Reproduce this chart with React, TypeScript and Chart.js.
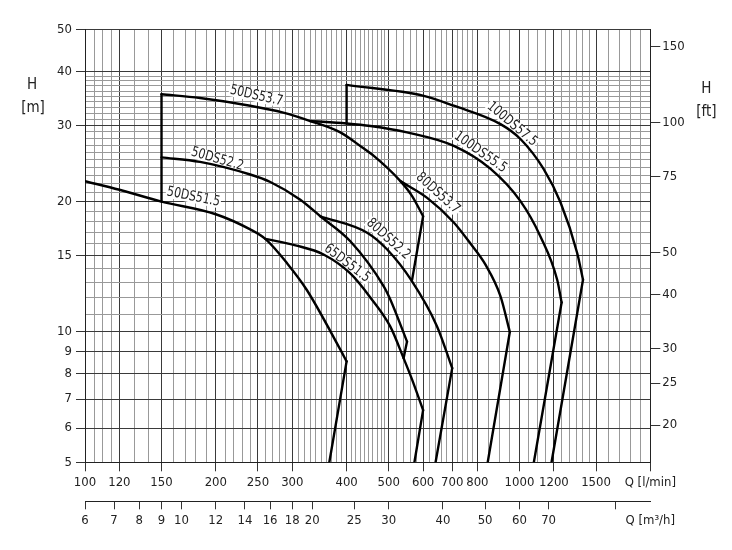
import { useEffect, useRef } from 'react';
import { Chart, registerables } from 'chart.js';

Chart.register(...registerables);

const FONT = "'DejaVu Sans Condensed', 'Liberation Sans', sans-serif";
const TEXT = '#222';
const GRID_MAJOR = '#3a3a3a';
const GRID_MINOR = '#999999';
const TICK = '#333';
const NONE = 'rgba(0,0,0,0)';
const M_TO_FT = 3.28084;

// Flow axis (l/min): labelled lines and the finer grid
const qMajor = [100, 120, 150, 200, 250, 300, 400, 500, 600, 700, 800, 1000, 1200, 1500, 2000];
const qMinor = [
  105, 110, 115, 130, 140, 160, 170, 180, 190, 210, 220, 230, 240, 260, 270, 280, 290,
  310, 320, 330, 340, 350, 360, 370, 380, 390, 410, 420, 430, 440, 450, 460, 470, 480, 490,
  520, 540, 560, 580, 620, 640, 660, 680, 720, 740, 760, 780, 850, 900, 950,
  1050, 1100, 1150, 1250, 1300, 1350, 1400, 1450, 1600, 1700, 1800, 1900,
];
// Flow axis (m³/h)
const m3Ticks = [6, 7, 8, 9, 10, 12, 14, 16, 18, 20, 25, 30, 40, 50, 60, 70, 100, 120];
// Head axis (m)
const hMajor = [5, 6, 7, 8, 9, 10, 15, 20, 30, 40, 50];
const hMinor = [11, 12, 13, 14, 16, 17, 18, 19, 21, 22, 23, 24, 25, 26, 27, 28, 29, 31, 32, 33, 34, 35, 36, 37, 38, 39];
// Head axis (ft)
const ftTicks = [20, 25, 30, 40, 50, 75, 100, 150];

// Pump curves: Q in l/min, H in m
const q50DS515 = [100, 120, 150, 200, 240, 260, 292, 324, 387, 400];
const h50DS515 = [22.3, 21.3, 20.0, 18.7, 17.25, 16.4, 14.4, 12.5, 9.1, 8.55];
const q50DS515Drop = [400, 365];
const h50DS515Drop = [8.55, 5];

const q65DS515 = [260, 305, 354, 408, 454, 504, 541, 566, 600];
const h65DS515 = [16.4, 15.85, 15.1, 13.65, 12.0, 10.3, 8.7, 7.76, 6.6];
const q65DS515Drop = [600, 573];
const h65DS515Drop = [6.6, 5];

const q50DS522 = [150, 184, 240, 267, 313, 348, 408, 487, 504, 551];
const h50DS522 = [25.3, 24.7, 23.1, 22.2, 20.2, 18.5, 16.2, 12.75, 11.9, 9.5];
const q50DS522Drop = [551, 541];
const h50DS522Drop = [9.5, 8.7];

const q80DS522 = [348, 446, 496, 564, 646, 700];
const h80DS522 = [18.5, 16.95, 15.5, 13.15, 10.3, 8.25];
const q80DS522Drop = [700, 641];
const h80DS522Drop = [8.25, 5];

const q50DS537 = [150, 184, 240, 286, 330, 387, 434, 462, 532, 566, 600];
const h50DS537 = [35.4, 34.7, 33.3, 32.1, 30.7, 28.9, 26.7, 25.5, 22.3, 20.6, 18.5];
const q50DS537Drop = [600, 566];
const h50DS537Drop = [18.5, 13.2];
const q150Bound = [150, 150];
const h150Bound = [20.0, 35.4];

const q80DS537 = [532, 613, 706, 771, 835, 904, 950];
const h80DS537 = [22.3, 20.4, 17.9, 16.0, 14.3, 12.1, 10.0];
const q80DS537Drop = [950, 845];
const h80DS537Drop = [10.0, 5];

const q100DS555 = [330, 400, 454, 551, 706, 858, 1005, 1118, 1221, 1250];
const h100DS555 = [30.7, 30.3, 29.9, 28.9, 26.9, 23.8, 20.05, 16.6, 13.2, 11.7];
const q100DS555Drop = [1250, 1079];
const h100DS555Drop = [11.7, 5];

const q100DS575 = [400, 602, 706, 904, 1005, 1136, 1243, 1358, 1400];
const h100DS575 = [37.2, 35.1, 33.3, 30.2, 27.9, 23.8, 19.9, 15.2, 13.2];
const q100DS575Drop = [1400, 1185];
const h100DS575Drop = [13.2, 5];
const q400Bound = [400, 400];
const h400Bound = [30.3, 37.2];

// Model names written along the curves
const curveNames = ['50DS51.5', '50DS52.2', '50DS53.7', '65DS51.5', '80DS52.2', '80DS53.7', '100DS55.5', '100DS57.5'];
const nameQ = [177.6, 201.7, 248, 401, 499, 649, 813, 962];
const nameH = [20.5, 25.05, 35.1, 14.4, 16.4, 20.9, 26.0, 30.2];
const nameAngle = [11.5, 16, 12.5, 37, 42, 42, 35, 40];

const near = (arr: number[], v: number) => arr.some((a) => Math.abs(a - v) < 1e-6);

const qLabel = (v: number) => {
  if (v === 2000) return 'Q [l/min]';
  return near(qMajor, v) ? String(v) : '';
};
const m3Label = (v: number) => {
  if (v === 120) return 'Q [m³/h]';
  if (v === 100) return '';
  return String(v);
};

function line(q: number[], h: number[], smooth: boolean) {
  return {
    data: q.map((x, i) => ({ x, y: h[i] })),
    borderColor: '#000',
    borderWidth: 2.4,
    pointRadius: 0,
    fill: false,
    tension: 0,
    cubicInterpolationMode: smooth ? 'monotone' : 'default',
    borderCapStyle: 'round',
    borderJoinStyle: 'round',
    xAxisID: 'x',
    yAxisID: 'y',
  };
}

const LABEL_SIZE = 14;
const LABEL_SQUEEZE = 0.87;

const textPlugin = {
  id: 'pumpText',
  beforeDatasetsDraw(chart: any) {
    const { ctx, scales } = chart;
    ctx.save();
    ctx.font = `${LABEL_SIZE}px ${FONT}`;
    curveNames.forEach((name, i) => {
      const px = scales.x.getPixelForValue(nameQ[i]);
      const py = scales.y.getPixelForValue(nameH[i]);
      const w = ctx.measureText(name).width * LABEL_SQUEEZE;
      ctx.save();
      ctx.translate(px, py);
      ctx.rotate((nameAngle[i] * Math.PI) / 180);
      ctx.fillStyle = '#fff';
      ctx.fillRect(-w / 2 - 1, -6, w + 2, 12);
      ctx.restore();
    });
    ctx.restore();
  },
  afterDatasetsDraw(chart: any) {
    const { ctx, scales, chartArea } = chart;
    ctx.save();
    ctx.fillStyle = TEXT;
    ctx.textAlign = 'center';
    ctx.textBaseline = 'middle';
    ctx.font = `${LABEL_SIZE}px ${FONT}`;
    curveNames.forEach((name, i) => {
      const px = scales.x.getPixelForValue(nameQ[i]);
      const py = scales.y.getPixelForValue(nameH[i]);
      ctx.save();
      ctx.translate(px, py);
      ctx.rotate((nameAngle[i] * Math.PI) / 180);
      ctx.scale(LABEL_SQUEEZE, 1);
      ctx.fillText(name, 0, 0);
      ctx.restore();
    });
    // axis titles
    ctx.font = `15px ${FONT}`;
    ctx.fillText('H', chartArea.left - 53, chartArea.top + 56);
    ctx.fillText('[m]', chartArea.left - 52, chartArea.top + 79);
    ctx.fillText('H', chartArea.right + 56, chartArea.top + 60);
    ctx.fillText('[ft]', chartArea.right + 56, chartArea.top + 83);
    ctx.restore();
  },
};

export default function App() {
  const ref = useRef<HTMLCanvasElement | null>(null);

  useEffect(() => {
    document.body.style.margin = '0';
    const canvas = ref.current;
    if (!canvas) return;

    const datasets = [
      line(q50DS515, h50DS515, true),
      line(q50DS515Drop, h50DS515Drop, false),
      line(q65DS515, h65DS515, true),
      line(q65DS515Drop, h65DS515Drop, false),
      line(q50DS522, h50DS522, true),
      line(q50DS522Drop, h50DS522Drop, false),
      line(q80DS522, h80DS522, true),
      line(q80DS522Drop, h80DS522Drop, false),
      line(q50DS537, h50DS537, true),
      line(q50DS537Drop, h50DS537Drop, false),
      line(q150Bound, h150Bound, false),
      line(q80DS537, h80DS537, true),
      line(q80DS537Drop, h80DS537Drop, false),
      line(q100DS555, h100DS555, true),
      line(q100DS555Drop, h100DS555Drop, false),
      line(q100DS575, h100DS575, true),
      line(q100DS575Drop, h100DS575Drop, false),
      line(q400Bound, h400Bound, false),
    ];

    const tickFont = { family: FONT, size: 13 };
    const qGrid = [...qMajor, ...qMinor].sort((a, b) => a - b);
    const hGrid = [...hMajor, ...hMinor].sort((a, b) => a - b);

    const chart = new Chart(canvas, {
      type: 'line',
      data: { datasets: datasets as any },
      plugins: [textPlugin],
      options: {
        animation: false,
        responsive: false,
        devicePixelRatio: 1,
        layout: { padding: { top: 29.3, left: 0, right: 0, bottom: 0 } },
        plugins: { legend: { display: false }, tooltip: { enabled: false } },
        scales: {
          x: {
            type: 'logarithmic',
            position: 'bottom',
            weight: 0,
            min: 100,
            max: 2000,
            afterBuildTicks: (s: any) => {
              s.ticks = qGrid.map((v) => ({ value: v }));
            },
            afterFit: (s: any) => {
              s.height = 39;
            },
            grid: {
              color: (c: any) => (c.tick && near(qMajor, c.tick.value) ? GRID_MAJOR : GRID_MINOR),
              tickColor: (c: any) => (c.tick && near(qMajor, c.tick.value) ? TICK : NONE),
              tickLength: 9,
              lineWidth: 1,
            },
            border: { display: true, color: '#222', width: 1 },
            ticks: {
              autoSkip: false,
              maxRotation: 0,
              minRotation: 0,
              padding: 4,
              color: TEXT,
              font: tickFont,
              callback: (v: any) => qLabel(Number(v)),
            },
          },
          x2: {
            type: 'logarithmic',
            position: 'bottom',
            weight: 1,
            min: 6,
            max: 120,
            afterBuildTicks: (s: any) => {
              s.ticks = m3Ticks.map((v) => ({ value: v }));
            },
            afterFit: (s: any) => {
              s.height = 48.7;
            },
            grid: {
              drawOnChartArea: false,
              tickLength: 8,
              tickColor: (c: any) => (c.tick && c.tick.value === 120 ? NONE : TICK),
            },
            border: { display: true, color: '#222', width: 1 },
            ticks: {
              autoSkip: false,
              maxRotation: 0,
              minRotation: 0,
              padding: 4,
              color: TEXT,
              font: tickFont,
              callback: (v: any) => m3Label(Number(v)),
            },
          },
          y: {
            type: 'logarithmic',
            position: 'left',
            min: 5,
            max: 50,
            afterBuildTicks: (s: any) => {
              s.ticks = hGrid.map((v) => ({ value: v }));
            },
            afterFit: (s: any) => {
              s.width = 85;
            },
            grid: {
              color: (c: any) => (c.tick && near(hMajor, c.tick.value) ? GRID_MAJOR : GRID_MINOR),
              tickColor: (c: any) => (c.tick && near(hMajor, c.tick.value) ? TICK : NONE),
              tickLength: 9,
              lineWidth: 1,
            },
            border: { display: true, color: '#222', width: 1 },
            ticks: {
              autoSkip: false,
              padding: 4,
              color: TEXT,
              font: tickFont,
              callback: (v: any) => (near(hMajor, Number(v)) ? String(v) : ''),
            },
          },
          yft: {
            type: 'logarithmic',
            position: 'right',
            min: 5 * M_TO_FT,
            max: 50 * M_TO_FT,
            afterBuildTicks: (s: any) => {
              s.ticks = ftTicks.map((v) => ({ value: v }));
            },
            afterFit: (s: any) => {
              s.width = 81.7;
            },
            grid: { drawOnChartArea: false, tickLength: 10, tickColor: TICK },
            border: { display: true, color: '#222', width: 1 },
            ticks: {
              autoSkip: false,
              padding: 2,
              color: TEXT,
              font: tickFont,
              callback: (v: any) => String(v),
            },
          },
        },
      } as any,
    });

    return () => chart.destroy();
  }, []);

  return (
    <div style={{ width: 732, height: 550 }}>
      <canvas ref={ref} width={732} height={550} style={{ display: 'block' }} />
    </div>
  );
}
